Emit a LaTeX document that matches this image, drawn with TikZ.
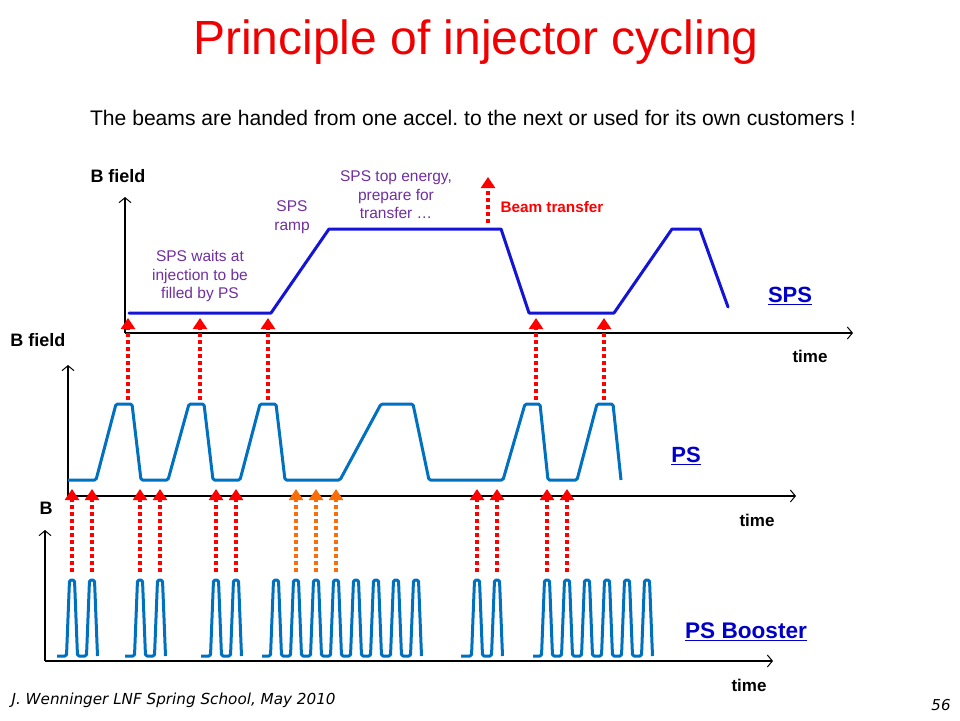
\documentclass[tikz,border=0pt]{standalone}
\usepackage{fontspec}
\setmainfont{Liberation Sans}
\newfontfamily\footfont{DejaVu Sans}
\usetikzlibrary{arrows.meta}
\frenchspacing
\definecolor{spsblue}{RGB}{20,20,215}
\definecolor{psblue}{RGB}{0,112,192}
\definecolor{lblue}{RGB}{0,0,200}
\definecolor{purp}{RGB}{112,48,160}
\definecolor{tred}{RGB}{240,0,0}
\definecolor{ared}{RGB}{255,0,0}
\definecolor{aorange}{RGB}{250,110,10}
\newcommand{\fsz}[2]{\fontsize{#1}{#2}\selectfont}
\newcommand{\boostgrp}[3]{%
  \draw[pscurve] (#1,656)
    \foreach \k in {1,...,#3} {
      -- ({#2+20*(\k-1)-5.5},656) -- ({#2+20*(\k-1)-2.5},580)
      -- ({#2+20*(\k-1)+2.5},580) -- ({#2+20*(\k-1)+5.5},656) };
}
\begin{document}
\begin{tikzpicture}[x=1pt,y=-1pt,
  axis/.style={black,line width=1.1pt,-{Straight Barb[length=5pt,width=12pt,line width=1pt]}},
  spscurve/.style={spsblue,line width=3pt,line join=round,line cap=round},
  pscurve/.style={psblue,line width=3pt,line join=round,rounded corners=1.5pt},
  inj/.style={ared,line width=4pt,dash pattern=on 4pt off 3pt,-{Triangle[width=14pt,length=11pt]}},
  injo/.style={inj,aorange},
  axlabel/.style={font=\bfseries\fsz{18}{20}},
  timelabel/.style={font=\bfseries\fsz{17}{20}},
  note/.style={purp,align=center,font=\fsz{15.5}{18.5}},
  machine/.style={lblue,font=\bfseries\fsz{22}{24}}]
\useasboundingbox[fill=white] (0,0) rectangle (960,720);

% titles
\node[tred,font=\fsz{48}{56}] (title) at (476,42) {Principle of injector cycling};
\node[font=\fsz{21.1}{24}] (sub) at (473,118) {The beams are handed from one accel. to the next or used for its own customers !};

% ---------------- SPS ----------------
\draw[axis] (125,333) -- (125,197);
\draw[axis] (125,333) -- (853,333);
\node[axlabel] (bf1) at (118,176) {B field};
\node[timelabel] (t1) at (810,356) {time};
\draw[spscurve] (129,313) -- (271,313) -- (329,229) -- (501,229) -- (529,313)
  -- (614,313) -- (672,229) -- (700,229) -- (728,307);
\node[machine] (sps) at (790,296) {\underline{SPS}};
\node[note] (n1) at (200,276) {SPS waits at\\injection to be\\filled by PS};
\node[note] (n2) at (292,217) {SPS\\ramp};
\node[note] (n3) at (396,195) {SPS top energy,\\prepare for\\transfer …};
\draw[inj] (488,223) -- (488,177);
\node[ared,font=\bfseries\fsz{15.3}{17},anchor=west] (bt) at (497,207) {Beam transfer};
\foreach \x in {128,200,268,536,604} \draw[inj] (\x,400) -- (\x,318);

% ---------------- PS ----------------
\draw[axis] (68,496) -- (68,365);
\draw[axis] (68,496) -- (796,496);
\node[axlabel] (bf2) at (38,340) {B field};
\node[timelabel] (t2) at (757,520) {time};
\draw[pscurve] (68,480) -- (96,480) -- (116,404) -- (132,404) -- (141,480)
  -- (168,480) -- (189,404) -- (204,404) -- (213,480)
  -- (240,480) -- (260,404) -- (276,404) -- (285,480)
  -- (340,480) -- (381,404) -- (413,404) -- (429,480)
  -- (503,480) -- (525,404) -- (540,404) -- (548,480)
  -- (577,480) -- (597,404) -- (613,404) -- (621,480);
\node[machine] (ps) at (686,456) {\underline{PS}};
\foreach \x in {72,92,140,160,216,236,477,497,547,567} \draw[inj] (\x,572) -- (\x,489);
\foreach \x in {296,316,336} \draw[injo] (\x,572) -- (\x,489);

% ---------------- Booster ----------------
\draw[axis] (45,661) -- (45,530);
\draw[axis] (45,661) -- (773,661);
\node[axlabel] (bf3) at (46,508) {B};
\node[timelabel] (t3) at (749,685) {time};
\boostgrp{57}{72}{2}
\boostgrp{125}{140}{2}
\boostgrp{201}{216}{2}
\boostgrp{262}{276}{8}
\boostgrp{461}{477}{2}
\boostgrp{533}{547}{6}
\node[machine,font=\bfseries\fsz{22.6}{24}] (psb) at (746,632) {\underline{PS Booster}};

% footer
\node[anchor=west,font=\footfont\itshape\fsz{15.2}{17}] (foot) at (8,700) {J. Wenninger LNF Spring School, May 2010};
\node[font=\footfont\itshape\fsz{15}{17}] (pg) at (941,705) {56};
\end{tikzpicture}
\end{document}
